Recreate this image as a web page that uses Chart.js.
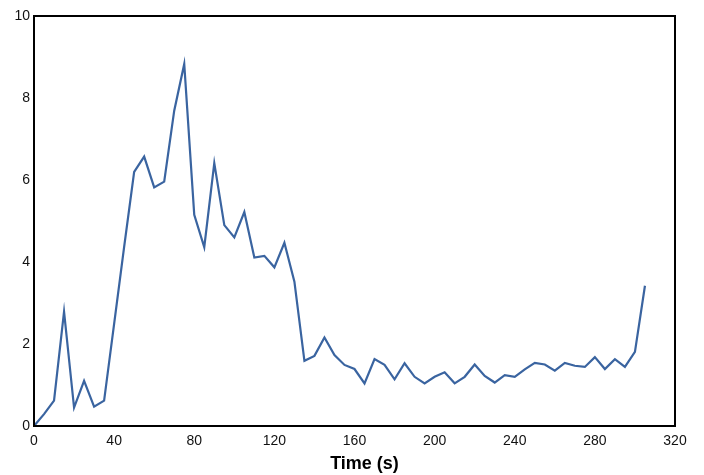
<!DOCTYPE html>
<html>
<head>
<meta charset="utf-8">
<script src="https://cdn.jsdelivr.net/npm/chart.js@4/dist/chart.umd.min.js"></script>
<style>
  html, body { margin: 0; padding: 0; background: #fff; }
  #wrap { width: 704px; height: 475px; }
</style>
</head>
<body>
<div id="wrap"><canvas id="chart" width="704" height="475"></canvas></div>
<script>
// Datos (una muestra cada 5 s)
const times = [
  0, 5, 10, 15, 20, 25, 30, 35, 40, 45,
  50, 55, 60, 65, 70, 75, 80, 85, 90, 95,
  100, 105, 110, 115, 120, 125, 130, 135, 140, 145,
  150, 155, 160, 165, 170, 175, 180, 185, 190, 195,
  200, 205, 210, 215, 220, 225, 230, 235, 240, 245,
  250, 255, 260, 265, 270, 275, 280, 285, 290, 295,
  300, 305
];
const values = [
  0, 0.29, 0.62, 2.79, 0.45, 1.10, 0.47, 0.62, 2.49, 4.37,
  6.20, 6.57, 5.82, 5.96, 7.69, 8.83, 5.15, 4.36, 6.41, 4.90,
  4.60, 5.22, 4.11, 4.15, 3.87, 4.47, 3.52, 1.59, 1.71, 2.16,
  1.73, 1.49, 1.39, 1.04, 1.63, 1.49, 1.14, 1.53, 1.20, 1.04,
  1.20, 1.31, 1.04, 1.20, 1.50, 1.22, 1.06, 1.24, 1.20, 1.38,
  1.54, 1.50, 1.35, 1.54, 1.47, 1.44, 1.68, 1.39, 1.63, 1.44,
  1.81, 3.42
];
const xTicks = [0, 40, 80, 120, 160, 200, 240, 280, 320];
const yTicks = [0, 2, 4, 6, 8, 10];
const xTitle = 'Time (s)';

// Marco negro alrededor del área del gráfico
const frame = {
  id: 'frame',
  afterDatasetsDraw(chart) {
    const a = chart.chartArea;
    const ctx = chart.ctx;
    ctx.save();
    ctx.strokeStyle = '#000';
    ctx.lineWidth = 2;
    ctx.strokeRect(a.left, a.top, a.right - a.left, a.bottom - a.top);
    ctx.restore();
  }
};

const font = { family: 'Liberation Sans, Arial, sans-serif', size: 14 };

new Chart(document.getElementById('chart'), {
  type: 'line',
  data: {
    datasets: [{
      data: times.map((t, i) => ({ x: t, y: values[i] })),
      borderColor: '#3a64a0',
      borderWidth: 2.2,
      pointRadius: 0,
      tension: 0,
      fill: false
    }]
  },
  options: {
    responsive: false,
    animation: false,
    layout: { padding: { left: 0, right: 29, top: 16, bottom: 0 } },
    plugins: {
      legend: { display: false },
      tooltip: { enabled: false }
    },
    scales: {
      x: {
        type: 'linear',
        min: xTicks[0],
        max: xTicks[xTicks.length - 1],
        afterBuildTicks: s => { s.ticks = xTicks.map(v => ({ value: v })); },
        afterFit: s => { s.height = 49; },
        grid: { display: false, drawTicks: false },
        border: { display: false },
        ticks: { color: '#111', font: font, padding: 7, maxRotation: 0 },
        title: {
          display: true,
          // espacios para correr el título un poco a la derecha, como en el original
          text: '\u00a0\u00a0\u00a0\u00a0' + xTitle,
          color: '#000',
          font: { family: 'Liberation Sans, Arial, sans-serif', size: 18, weight: 'bold' },
          padding: { top: 0, bottom: 0 }
        }
      },
      y: {
        min: yTicks[0],
        max: yTicks[yTicks.length - 1],
        afterBuildTicks: s => { s.ticks = yTicks.map(v => ({ value: v })); },
        afterFit: s => { s.width = 34; },
        grid: { display: false, drawTicks: false },
        border: { display: false },
        ticks: { color: '#111', font: font, padding: 4 }
      }
    }
  },
  plugins: [frame]
});
</script>
</body>
</html>
